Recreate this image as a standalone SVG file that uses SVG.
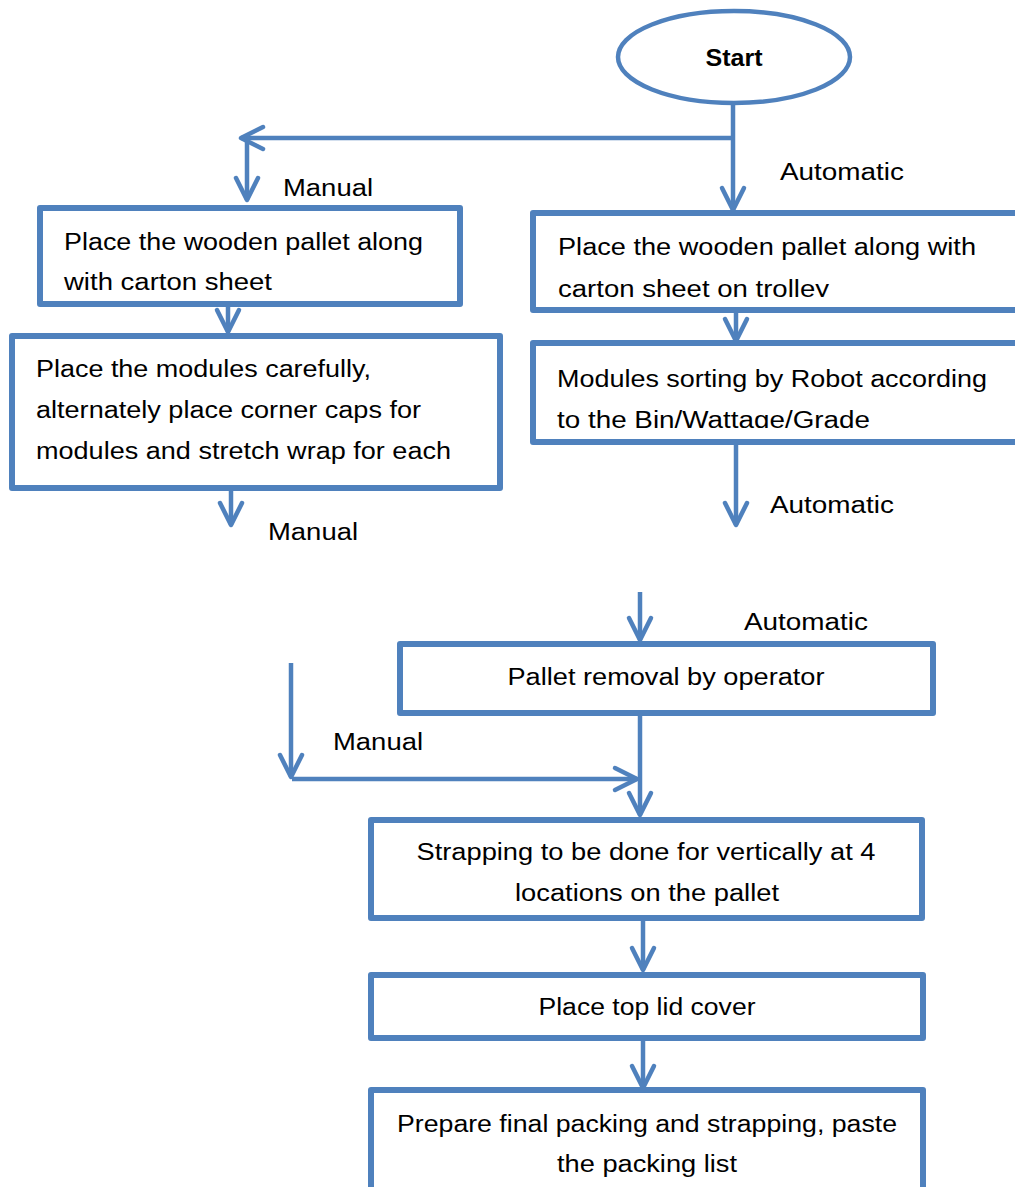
<svg xmlns="http://www.w3.org/2000/svg" width="1015" height="1187" viewBox="0 0 1015 1187">
<style>
.box{fill:#fff;stroke:#4F81BD;stroke-width:6;stroke-linejoin:round}
.ln{fill:none;stroke:#4F81BD;stroke-width:4.5}
.t{font-family:"Liberation Sans",Arial,sans-serif;font-size:23px;fill:#000}
.c{text-anchor:middle}
.b{font-weight:bold}
</style>
<defs>
<marker id="ah" markerUnits="userSpaceOnUse" viewBox="-26 -15 30 30" refX="0" refY="0" markerWidth="30" markerHeight="30" orient="auto" overflow="visible">
<path d="M-22,-11 L0,0 L-22,11" fill="none" stroke="#4F81BD" stroke-width="4.5" stroke-linecap="round" stroke-linejoin="round"/>
</marker>
<clipPath id="c1"><rect x="533" y="213" width="490" height="84"/></clipPath>
<clipPath id="c2"><rect x="533" y="343" width="490" height="85"/></clipPath>
</defs>
<rect width="1015" height="1187" fill="#fff"/>
<g id="connectors">
<path class="ln" d="M733,104 V210" marker-end="url(#ah)"/>
<path class="ln" d="M733,138 H241" marker-end="url(#ah)"/>
<path class="ln" d="M247,138 V200" marker-end="url(#ah)"/>
<path class="ln" d="M228,304 V332" marker-end="url(#ah)"/>
<path class="ln" d="M231,488 V525" marker-end="url(#ah)"/>
<path class="ln" d="M736,310 V341" marker-end="url(#ah)"/>
<path class="ln" d="M736,442 V525" marker-end="url(#ah)"/>
<path class="ln" d="M640,592 V640" marker-end="url(#ah)"/>
<path class="ln" d="M640,713 V815" marker-end="url(#ah)"/>
<path class="ln" d="M291,663 V777" marker-end="url(#ah)"/>
<path class="ln" d="M292,779 H637" marker-end="url(#ah)"/>
<path class="ln" d="M643,918 V970" marker-end="url(#ah)"/>
<path class="ln" d="M643,1038 V1088" marker-end="url(#ah)"/>
</g>
<g id="labels">
<text class="t" x="283" y="196" textLength="90" lengthAdjust="spacingAndGlyphs">Manual</text>
<text class="t" x="780" y="180" textLength="124" lengthAdjust="spacingAndGlyphs">Automatic</text>
<text class="t" x="268" y="540" textLength="90" lengthAdjust="spacingAndGlyphs">Manual</text>
<text class="t" x="770" y="513" textLength="124" lengthAdjust="spacingAndGlyphs">Automatic</text>
<text class="t" x="744" y="630" textLength="124" lengthAdjust="spacingAndGlyphs">Automatic</text>
<text class="t" x="333" y="750" textLength="90" lengthAdjust="spacingAndGlyphs">Manual</text>
</g>
<g id="start">
<ellipse cx="734" cy="57" rx="116" ry="46" fill="#fff" stroke="#4F81BD" stroke-width="4.5"/>
<text class="t c b" x="734" y="66" textLength="57" lengthAdjust="spacingAndGlyphs">Start</text>
</g>
<g id="manual-pallet">
<rect class="box" x="40" y="208" width="420" height="96"/>
<text class="t" x="64" y="250" textLength="359" lengthAdjust="spacingAndGlyphs">Place the wooden pallet along</text>
<text class="t" x="64" y="290" textLength="208" lengthAdjust="spacingAndGlyphs">with carton sheet</text>
</g>
<g id="manual-modules">
<rect class="box" x="12" y="336" width="488" height="152"/>
<text class="t" x="36" y="377" textLength="335" lengthAdjust="spacingAndGlyphs">Place the modules carefully,</text>
<text class="t" x="36" y="418" textLength="385" lengthAdjust="spacingAndGlyphs">alternately place corner caps for</text>
<text class="t" x="36" y="459" textLength="415" lengthAdjust="spacingAndGlyphs">modules and stretch wrap for each</text>
</g>
<g id="auto-pallet">
<rect class="box" x="533" y="213" width="490" height="97"/>
<g clip-path="url(#c1)">
<text class="t" x="558" y="255" textLength="418" lengthAdjust="spacingAndGlyphs">Place the wooden pallet along with</text>
<text class="t" x="558" y="297" textLength="271" lengthAdjust="spacingAndGlyphs">carton sheet on trolley</text>
</g>
</g>
<g id="auto-sorting">
<rect class="box" x="533" y="343" width="490" height="99"/>
<g clip-path="url(#c2)">
<text class="t" x="557" y="387" textLength="430" lengthAdjust="spacingAndGlyphs">Modules sorting by Robot according</text>
<text class="t" x="557" y="428" textLength="313" lengthAdjust="spacingAndGlyphs">to the Bin/Wattage/Grade</text>
</g>
</g>
<g id="pallet-removal">
<rect class="box" x="400" y="644" width="533" height="69"/>
<text class="t c" x="666" y="685" textLength="317" lengthAdjust="spacingAndGlyphs">Pallet removal by operator</text>
</g>
<g id="strapping">
<rect class="box" x="371" y="820" width="551" height="98"/>
<text class="t c" x="646" y="860" textLength="459" lengthAdjust="spacingAndGlyphs">Strapping to be done for vertically at 4</text>
<text class="t c" x="647" y="901" textLength="264" lengthAdjust="spacingAndGlyphs">locations on the pallet</text>
</g>
<g id="top-lid">
<rect class="box" x="371" y="975" width="552" height="63"/>
<text class="t c" x="647" y="1015" textLength="217" lengthAdjust="spacingAndGlyphs">Place top lid cover</text>
</g>
<g id="final-packing">
<rect class="box" x="371" y="1090" width="552" height="104"/>
<text class="t c" x="647" y="1132" textLength="500" lengthAdjust="spacingAndGlyphs">Prepare final packing and strapping, paste</text>
<text class="t c" x="647" y="1172" textLength="180" lengthAdjust="spacingAndGlyphs">the packing list</text>
</g>
</svg>
